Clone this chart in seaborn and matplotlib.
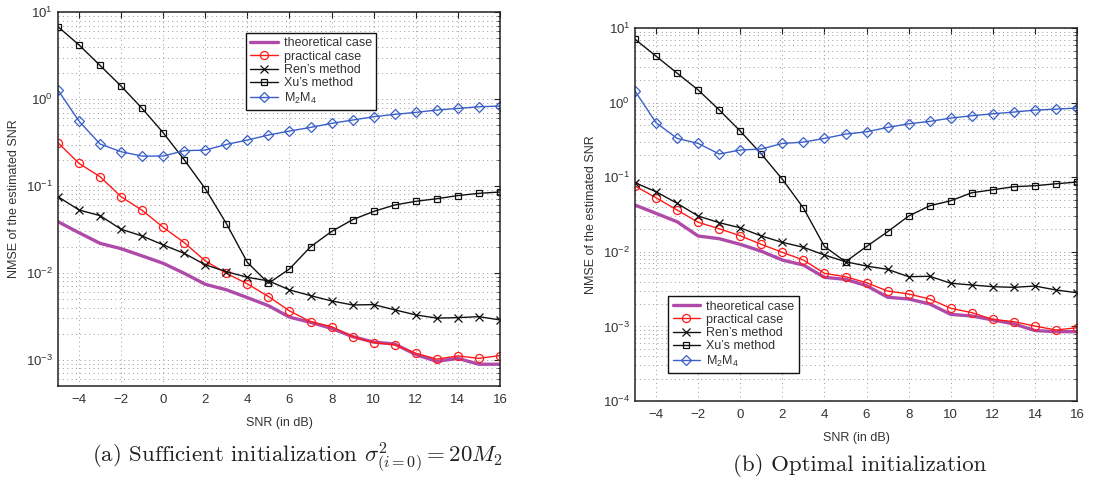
import numpy as np
import pandas as pd
import matplotlib
matplotlib.use("Agg")
import matplotlib.pyplot as plt
import seaborn as sns
from matplotlib.ticker import LogLocator, NullFormatter

snr = list(range(-5, 17))

# Panel (a): sufficient initialization
a_theoretical = [0.0389, 0.029, 0.0219, 0.019, 0.0157, 0.0129, 0.0099, 0.0074, 0.0064, 0.0052, 0.0042,
                 0.0031, 0.0027, 0.0023, 0.00185, 0.0016, 0.00152, 0.00115, 0.00096, 0.00104, 0.00089, 0.00089]
a_practical = [0.315, 0.182, 0.128, 0.0753, 0.0525, 0.0335, 0.0223, 0.01375, 0.0099, 0.00748, 0.00535,
               0.00366, 0.00275, 0.00241, 0.00185, 0.00158, 0.00149, 0.00119, 0.00102, 0.00111, 0.00104, 0.00112]
a_ren = [0.0753, 0.053, 0.0456, 0.0318, 0.0266, 0.021, 0.0168, 0.0124, 0.01035, 0.0089, 0.0081,
         0.00638, 0.00548, 0.00476, 0.00428, 0.00432, 0.00376, 0.00329, 0.00302, 0.00306, 0.00314, 0.00288]
a_xu = [6.8, 4.2, 2.44, 1.41, 0.78, 0.41, 0.20, 0.093, 0.037, 0.0132, 0.0076,
        0.0111, 0.020, 0.030, 0.041, 0.051, 0.0605, 0.0667, 0.0714, 0.0776, 0.0824, 0.0853]
a_m2m4 = [1.27, 0.558, 0.304, 0.248, 0.221, 0.221, 0.255, 0.259, 0.301, 0.338, 0.386,
          0.429, 0.472, 0.526, 0.574, 0.627, 0.667, 0.703, 0.748, 0.781, 0.816, 0.832]

# Panel (b): optimal initialization
b_theoretical = [0.0424, 0.0328, 0.0253, 0.0163, 0.015, 0.0126, 0.0102, 0.00776, 0.00665, 0.00455, 0.00428,
                 0.00352, 0.00246, 0.00233, 0.0020, 0.00145, 0.00138, 0.00122, 0.00108, 0.00088, 0.00085, 0.00085]
b_practical = [0.0762, 0.0531, 0.0363, 0.0249, 0.0204, 0.0164, 0.0126, 0.00984, 0.00776, 0.00515, 0.00464,
               0.00385, 0.00298, 0.00272, 0.00233, 0.00175, 0.00153, 0.00124, 0.00116, 0.00101, 0.000895, 0.00096]
b_ren = [0.0843, 0.064, 0.0447, 0.0302, 0.0246, 0.021, 0.0163, 0.0134, 0.0115, 0.00906, 0.00737,
         0.00645, 0.00582, 0.00464, 0.0047, 0.00379, 0.00359, 0.00341, 0.00334, 0.00348, 0.00308, 0.00283]
b_xu = [7.1, 4.2, 2.49, 1.48, 0.80, 0.416, 0.205, 0.094, 0.0387, 0.0118, 0.00736,
        0.0118, 0.0186, 0.0302, 0.0415, 0.0484, 0.062, 0.068, 0.0747, 0.077, 0.0818, 0.0863]
b_m2m4 = [1.43, 0.538, 0.332, 0.284, 0.205, 0.232, 0.239, 0.284, 0.296, 0.332, 0.379,
          0.407, 0.466, 0.521, 0.561, 0.622, 0.668, 0.71, 0.748, 0.796, 0.82, 0.847]

labels = ["theoretical case", "practical case", "Ren\u2019s method", "Xu\u2019s method", r"M$_2$M$_4$"]
xticks = [-4, -2, 0, 2, 4, 6, 8, 10, 12, 14, 16]
captions = [r"(a) Sufficient initialization $\sigma^2_{(i=0)} = 20M_2$", "(b) Optimal initialization"]

sns.set_theme(style="white")
plt.rcParams["font.family"] = ["Liberation Sans", "DejaVu Sans"]
plt.rcParams["mathtext.fontset"] = "custom"
plt.rcParams["mathtext.rm"] = "Liberation Sans"
plt.rcParams["mathtext.it"] = "Liberation Sans:italic"

styles = [
    dict(color="#b04aa8", lw=2.4, marker=None),
    dict(color="#ff1a1a", lw=1.0, marker="o", ms=5.8, mfc="none", mew=0.9),
    dict(color="#111111", lw=1.0, marker="x", ms=6, mew=0.9),
    dict(color="#111111", lw=1.0, marker="s", ms=4.3, mfc="none", mew=0.9),
    dict(color="#3a5fc8", lw=1.0, marker="D", ms=5, mfc="none", mew=0.9),
]

fig = plt.figure(figsize=(11.19, 4.83), dpi=100)
ax_a = fig.add_axes([0.0518, 0.2008, 0.395, 0.774])
ax_b = fig.add_axes([0.5675, 0.1698, 0.395, 0.772])

panels = [
    (ax_a, [a_theoretical, a_practical, a_ren, a_xu, a_m2m4], (5e-4, 10),
     dict(loc="upper left", bbox_to_anchor=(0.425, 0.944))),
    (ax_b, [b_theoretical, b_practical, b_ren, b_xu, b_m2m4], (1e-4, 10),
     dict(loc="lower left", bbox_to_anchor=(0.075, 0.075))),
]

for (ax, series, ylim, legkw), cap in zip(panels, captions):
    for vals, lab, st in zip(series, labels, styles):
        df = pd.DataFrame({"SNR": snr, "NMSE": vals})
        kw = dict(color=st["color"], linewidth=st["lw"], label=lab)
        if st["marker"]:
            kw.update(marker=st["marker"], markersize=st["ms"], markerfacecolor=st.get("mfc", st["color"]),
                      markeredgecolor=st["color"], markeredgewidth=st["mew"])
        sns.lineplot(data=df, x="SNR", y="NMSE", ax=ax, **kw)
    ax.set_yscale("log")
    ax.set_xlim(-5, 16)
    ax.set_ylim(*ylim)
    ax.set_xticks(xticks)
    ax.yaxis.set_major_locator(LogLocator(base=10, numticks=10))
    ax.yaxis.set_minor_locator(LogLocator(base=10, subs=np.arange(2, 10), numticks=20))
    ax.yaxis.set_minor_formatter(NullFormatter())
    ax.grid(True, which="major", axis="both", linestyle=(0, (1, 3.5)), color="#999999", linewidth=0.7)
    ax.grid(True, which="minor", axis="y", linestyle=(0, (1, 3.5)), color="#999999", linewidth=0.7)
    ax.tick_params(which="both", direction="in", top=True, right=True, labelsize=9.5, colors="#222222",
                   labelcolor="#333333")
    ax.tick_params(which="major", length=4, width=0.8)
    ax.tick_params(which="minor", length=2, width=0.6)
    ax.tick_params(axis="x", pad=6)
    for sp in ax.spines.values():
        sp.set_color("#222222")
        sp.set_linewidth(1.1)
    ax.set_xlabel("SNR (in dB)", fontsize=9, color="#333333", labelpad=8)
    ax.set_ylabel("NMSE of the estimated SNR", fontsize=9, color="#333333", labelpad=4)
    leg = ax.legend(fontsize=9, frameon=True, fancybox=False, edgecolor="#111111", framealpha=1,
                    borderpad=0.35, labelspacing=0.1, handlelength=2.2, handletextpad=0.5,
                    borderaxespad=0, **legkw)
    leg.get_frame().set_linewidth(1.0)
    for t in leg.get_texts():
        t.set_color("#333333")

fig.text(0.266, 0.052, captions[0], ha="center", va="center", fontsize=16.5, family="cmr10",
         math_fontfamily="cm", color="#222222")
fig.text(0.768, 0.037, captions[1], ha="center", va="center", fontsize=16.5, family="cmr10",
         color="#222222")

fig.savefig("out.png", dpi=100)
